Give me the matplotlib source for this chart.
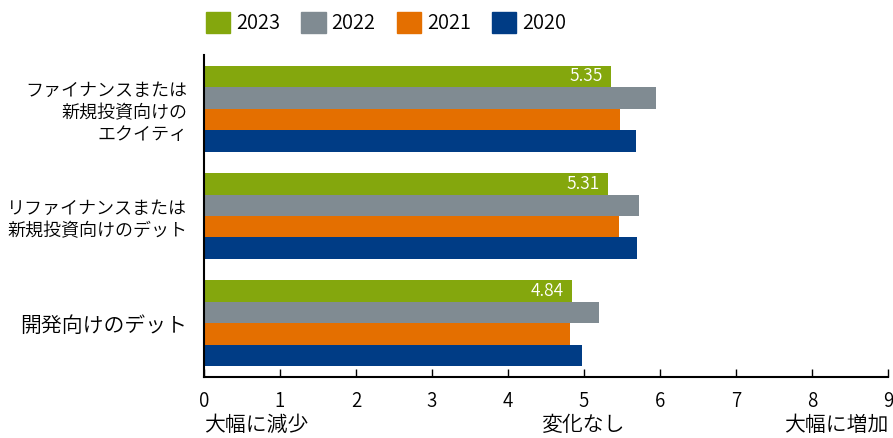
import numpy as np
import matplotlib
matplotlib.use("Agg")
import matplotlib.pyplot as plt
from matplotlib.patches import Patch
from matplotlib.transforms import blended_transform_factory

plt.rcParams['font.family'] = ['Noto Sans CJK JP', 'DejaVu Sans']
plt.rcParams['font.weight'] = 350

categories = ["ファイナンスまたは\n新規投資向けの\nエクイティ",
              "リファイナンスまたは\n新規投資向けのデット",
              "開発向けのデット"]
cat_sizes = [13, 13, 15]
years = ["2023", "2022", "2021", "2020"]
values = {
    "2023": [5.35, 5.31, 4.84],
    "2022": [5.95, 5.73, 5.20],
    "2021": [5.47, 5.46, 4.82],
    "2020": [5.69, 5.70, 4.98],
}
colors = {"2023": "#84A70D", "2022": "#808B92", "2021": "#E46F00", "2020": "#003C85"}
bottom_labels = ["大幅に減少", "変化なし", "大幅に増加"]
bottom_pos = [0, 5, 9]

fig = plt.figure(figsize=(8.93, 4.38), dpi=100)
ax = fig.add_axes([204 / 893, 1 - 377 / 438, (888 - 204) / 893, (377 - 55) / 438])

h = 0.2
y = np.arange(len(categories))
for i, yr in enumerate(years):
    ax.barh(y - 0.3 + i * h, values[yr], height=h, color=colors[yr], linewidth=0)

# value labels on the 2023 bars
for yi, v in zip(y, values["2023"]):
    ax.text(v - 0.1, yi - 0.3, f"{v:.2f}", color="white", fontsize=12.5,
            ha="right", va="center")

ax.set_xlim(0, 9)
ax.set_ylim(2.5, -0.5)
ax.set_yticks(y)
ax.set_yticklabels(categories, linespacing=1.3)
for lab, fs in zip(ax.get_yticklabels(), cat_sizes):
    lab.set_fontsize(fs)
ax.tick_params(axis='y', length=0, pad=12)
ax.set_xticks(range(10))
ax.tick_params(axis='x', direction='in', length=6, width=1, labelsize=13.5, pad=10)
for s in ["top", "right"]:
    ax.spines[s].set_visible(False)
ax.spines["left"].set_linewidth(1.5)
ax.spines["bottom"].set_linewidth(1.5)

tr = blended_transform_factory(ax.transData, fig.transFigure)
aligns = ["left", "center", "right"]
for lab, p, al in zip(bottom_labels, bottom_pos, aligns):
    ax.text(p, 1 - 425 / 438, lab, transform=tr, ha=al, va="center", fontsize=15)

handles = [Patch(color=colors[yr], label=yr) for yr in years]
fig.legend(handles=handles, loc="center left", bbox_to_anchor=(198 / 893, 1 - 23 / 438),
           ncol=4, frameon=False, fontsize=14.5, handlelength=1.2, handleheight=1.2,
           handletextpad=0.3, columnspacing=1.05, borderaxespad=0)

fig.savefig("out.png", dpi=100)
